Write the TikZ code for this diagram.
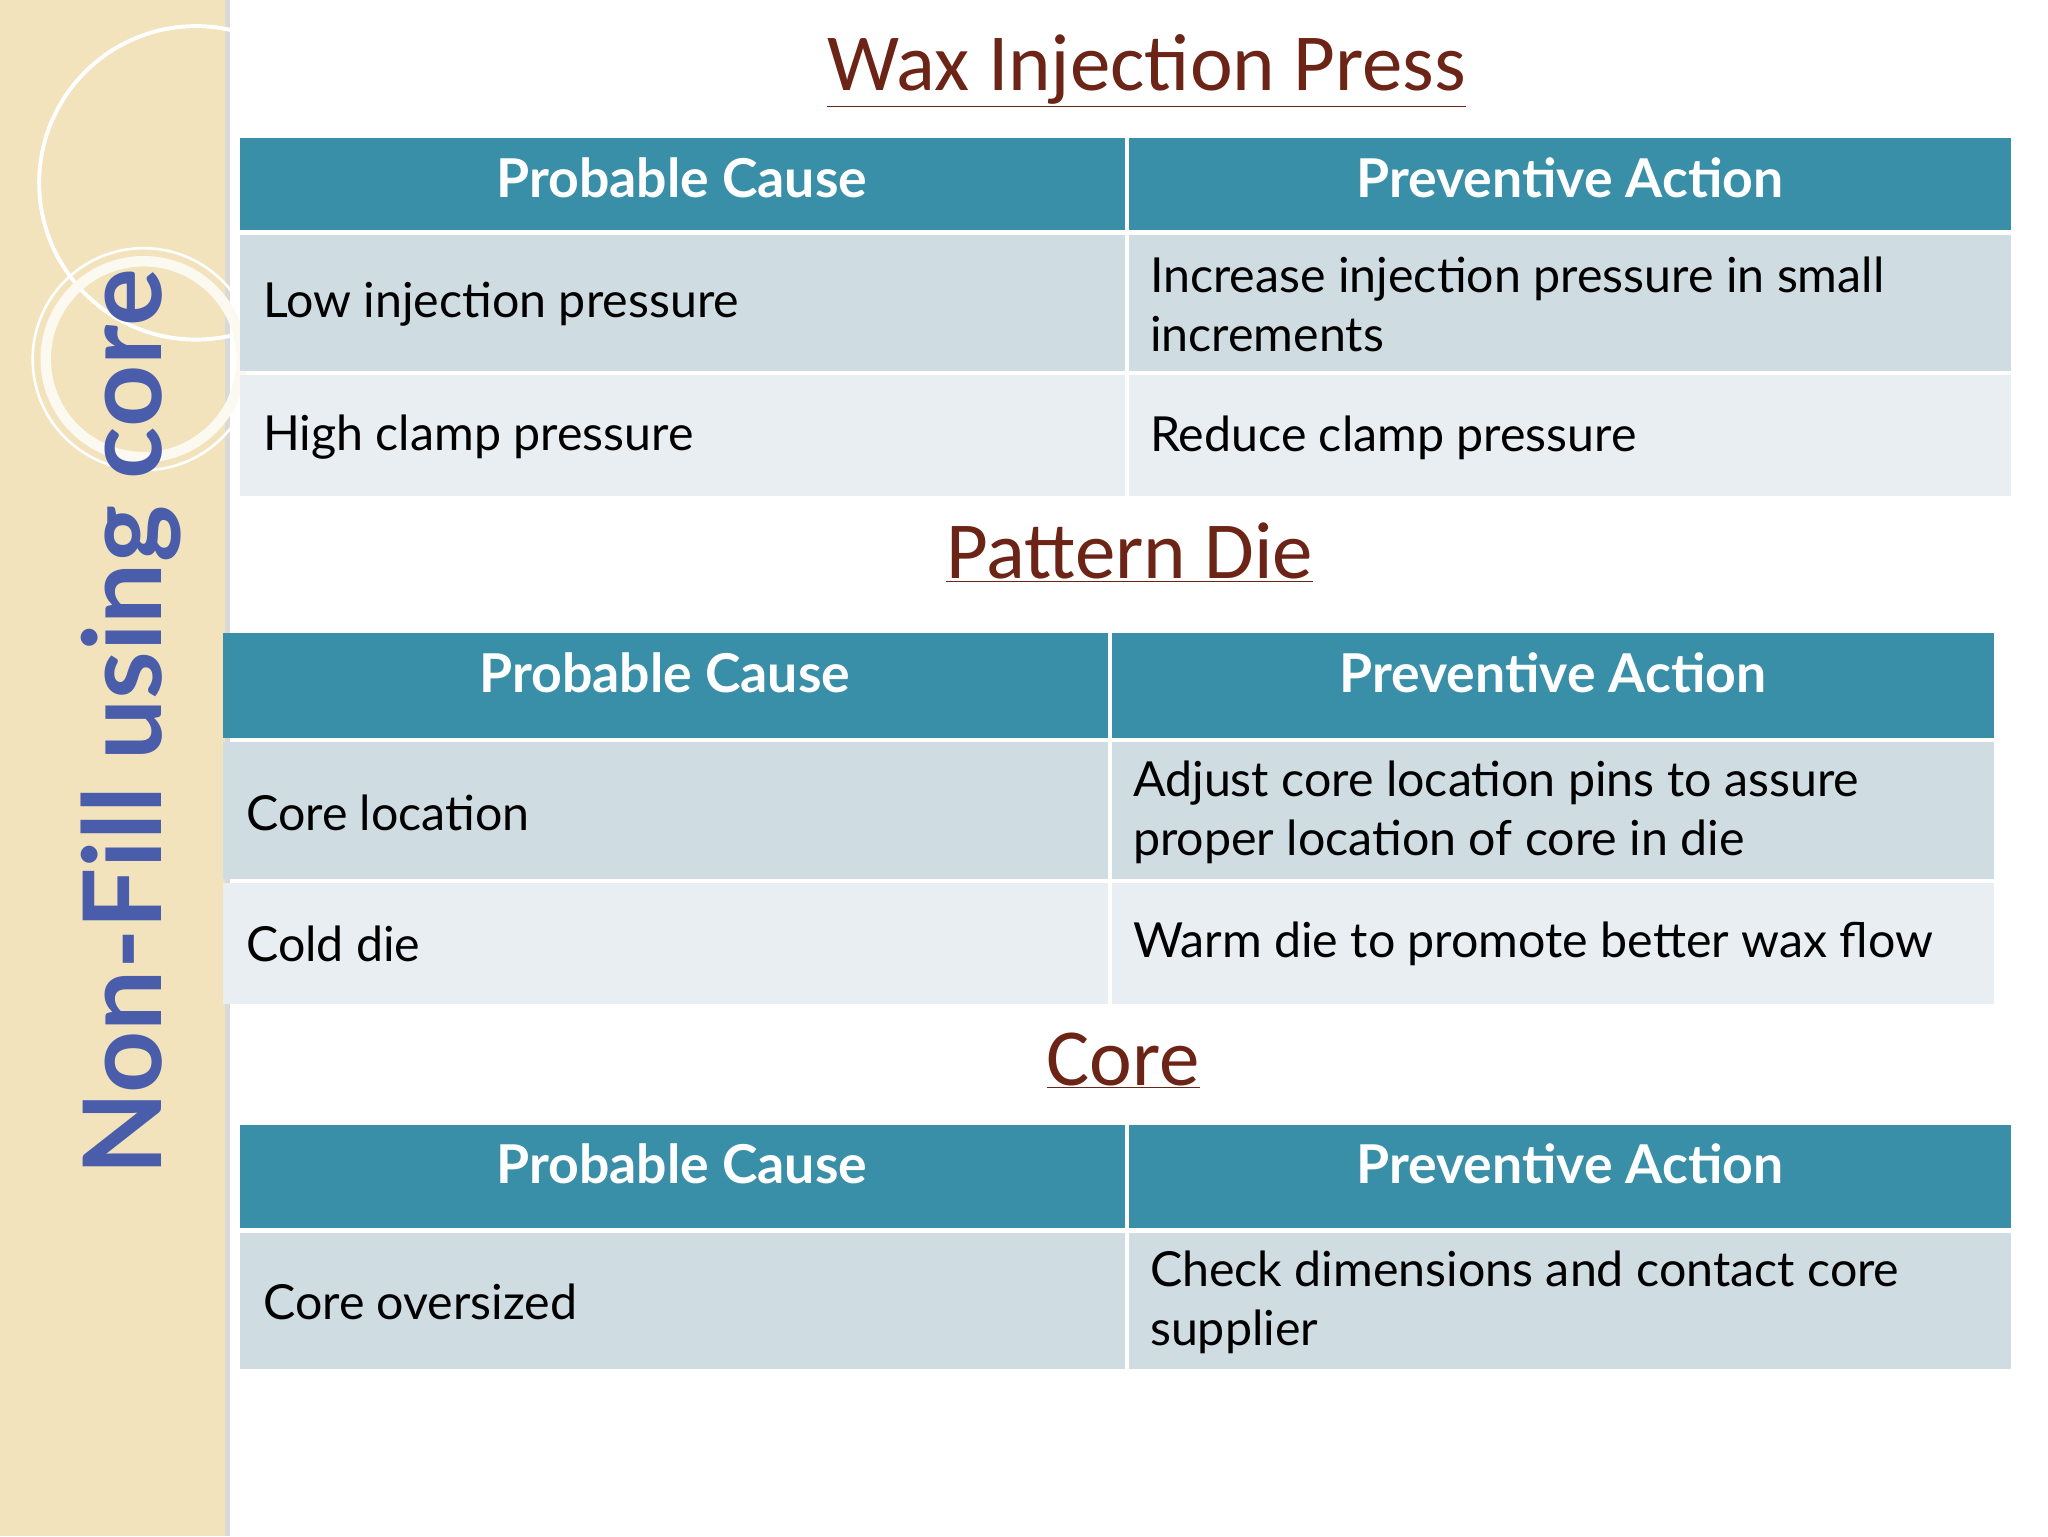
\documentclass[tikz,border=0pt]{standalone}
\usepackage{fontspec}
\setmainfont{Lato}
\newfontfamily\titlefont{Carlito}
\begin{document}
\begin{tikzpicture}[x=1pt,y=-1pt]
\definecolor{hdr}{HTML}{3A8FA8}
\definecolor{rowa}{HTML}{CFDCE2}
\definecolor{rowb}{HTML}{E8EEF1}
\definecolor{beige}{HTML}{F2E3BC}
\definecolor{ttl}{HTML}{6B2416}
\definecolor{vblue}{HTML}{4A5DAA}
\tikzset{
 hcell/.style={fill=hdr},
 acell/.style={fill=rowa},
 bcell/.style={fill=rowb},
 htext/.style={text=white,font=\fontsize{41}{46}\selectfont\bfseries,anchor=center},
 btext/.style={text=black,font=\fontsize{37}{45}\selectfont,anchor=west,align=left},
 ttext/.style={text=ttl,font=\titlefont\fontsize{62}{68}\selectfont,anchor=center}
}
\useasboundingbox (0,0) rectangle (1568,1176);
\fill[white] (0,0) rectangle (1568,1176);
\fill[beige] (0,0) rectangle (172,1176);
\fill[black!15] (172,0) rectangle (176,1176);
\draw[white,line width=3pt] (150,140) circle (120);
\draw[white!80!beige,line width=8pt] (110,275) circle (75);
\draw[white,line width=2pt] (110,275) circle (85);
\node[rotate=90,text=vblue,font=\fontsize{83}{88}\selectfont\bfseries] (vt) at (100,553) {Non-Fill using core};
% titles
\node[ttext] (t1) at (878,54) {\underline{Wax Injection Press}};
\node[ttext] (t2) at (865,423) {\underline{Pattern Die}};
\node[ttext] (t3) at (860,812) {\underline{Core}};
% table 1
\fill[hcell] (184,106) rectangle (861,176); \fill[hcell] (864,106) rectangle (1540,176);
\fill[acell] (184,180) rectangle (861,284); \fill[acell] (864,180) rectangle (1540,284);
\fill[bcell] (184,287) rectangle (861,380); \fill[bcell] (864,287) rectangle (1540,380);
\node[htext] (a1) at (522,136) {Probable Cause};
\node[htext] (a2) at (1202,136) {Preventive Action};
\node[btext] (a3) at (198,233) {Low injection pressure};
\node[btext] (a4) at (877,233) {Increase injection pressure in small\\increments};
\node[btext] (a5) at (198,335) {High clamp pressure};
\node[btext] (a6) at (877,335) {Reduce clamp pressure};
% table 2
\fill[hcell] (171,485) rectangle (848,565); \fill[hcell] (851,485) rectangle (1527,565);
\fill[acell] (171,568) rectangle (848,673); \fill[acell] (851,568) rectangle (1527,673);
\fill[bcell] (171,676) rectangle (848,769); \fill[bcell] (851,676) rectangle (1527,769);
\node[htext] (b1) at (509,515) {Probable Cause};
\node[htext] (b2) at (1189,515) {Preventive Action};
\node[btext] (b3) at (185,622) {Core location};
\node[btext] (b4) at (864,622) {Adjust core location pins to assure\\proper location of core in die};
\node[btext] (b5) at (185,723) {Cold die};
\node[btext] (b6) at (864,723) {Warm die to promote better wax flow};
% table 3
\fill[hcell] (184,861) rectangle (861,940); \fill[hcell] (864,861) rectangle (1540,940);
\fill[acell] (184,944) rectangle (861,1048); \fill[acell] (864,944) rectangle (1540,1048);
\node[htext] (c1) at (522,891) {Probable Cause};
\node[htext] (c2) at (1202,891) {Preventive Action};
\node[btext] (c3) at (198,997) {Core oversized};
\node[btext] (c4) at (877,997) {Check dimensions and contact core\\supplier};
\end{tikzpicture}
\end{document}
